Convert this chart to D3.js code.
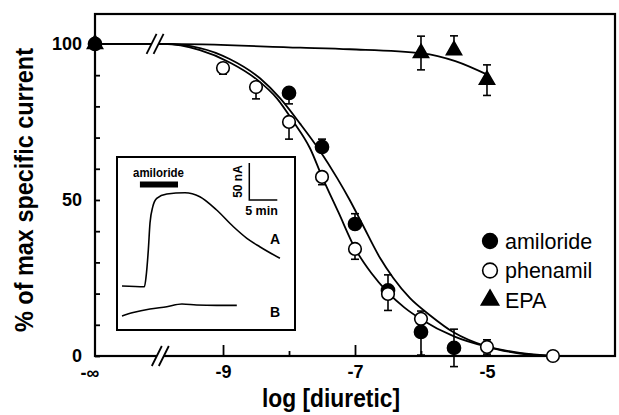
<!DOCTYPE html>
<html>
<head>
<meta charset="utf-8">
<script src="https://cdn.jsdelivr.net/npm/d3@7"></script>
<style>
  body { margin: 0; background: #fff; }
  svg { display: block; font-family: "Liberation Sans", Arial, Helvetica, sans-serif; }
</style>
</head>
<body>
<svg id="chart" width="619" height="415"></svg>
<script>
// measured points: log [diuretic] (M), % of max specific current. -Infinity = no drug
let amilorideX = [-Infinity, -8, -7.5, -7, -6.5, -6, -5.5];
let amilorideY = [100, 84.3, 67, 42.3, 21, 7.7, 2.6];
let amilorideErrUp = [0, 0, 2.5, 3.3, 5, 0, 6];
let amilorideErrDn = [0, 3.5, 0, 0, 0, 7.4, 6];

let phenamilX = [-9, -8.5, -8, -7.5, -7, -6.5, -6, -5, -4];
let phenamilY = [92.3, 86.2, 75, 57.4, 34.3, 19.9, 11.9, 2.9, 0];
let phenamilErrUp = [0, 0, 0, 0, 0, 0, 2.5, 2.3, 0];
let phenamilErrDn = [2, 3.8, 5.5, 2.5, 3.3, 5.3, 0, 2.3, 0];

let epaX = [-Infinity, -6, -5.5, -5];
let epaY = [100, 97.1, 98, 88.5];
let epaErrUp = [0, 5.4, 4.6, 4.8];
let epaErrDn = [0, 5.4, 0, 5];

// fitted curves
let amilorideFit = [[-Infinity,100],[-9.9,100],[-9.35,98.7],[-8.9,95.2],[-8.44,89],[-8.14,82.7],[-7.83,74.4],[-7.53,65.7],[-7.27,57],[-7.08,50],[-6.89,42.3],[-6.62,31.4],[-6.42,25],[-6.17,18.6],[-5.86,13],[-5.5,7.5],[-5,3],[-4.5,0.8],[-4,0]];
let phenamilFit = [[-Infinity,100],[-9.9,100],[-9.35,98],[-8.89,94],[-8.48,88.5],[-8.18,82.5],[-7.94,75.3],[-7.68,66.5],[-7.5,57.5],[-7.25,46],[-7,34.5],[-6.75,26.5],[-6.5,20.3],[-6.25,15.5],[-6,11.8],[-5.5,6.3],[-5,3],[-4.5,1],[-4,0]];
let epaFit = [[-Infinity,100],[-9.9,100],[-7.83,98.8],[-7.08,98.3],[-5.98,97],[-5.48,94.5],[-4.98,90]];

let xMajor = [-9, -7, -5];
let xMinor = [-8, -6, -4];
let yTicks = [0, 10, 20, 30, 40, 50, 60, 70, 80, 90, 100];
let yLabels = [0, 50, 100];

// inset: current traces, time in min, current in nA (each relative to its own baseline)
let traceAt = [0, 4.0, 4.3, 4.7, 5.0, 5.5, 6.2, 8.0, 11.25, 13.9, 16.9, 19.9, 22.3, 24.6, 28.2];
let traceAnA = [0, -1, 12.6, 48.6, 85.1, 107.2, 118.5, 124.3, 126.1, 120.7, 102.7, 80.1, 64.5, 53.1, 37.4];
let traceBt = [0, 2.0, 5.0, 8.0, 10.7, 13.3, 16.9, 20.5];
let traceBnA = [0, 4.6, 9.5, 12.6, 16.2, 14.9, 14.4, 14.4];
let amilorideBar = [3.2, 10.0];
let scaleBarnA = 50, scaleBarMin = 5;

let svg = d3.select("#chart");
svg.append("rect").attr("width", 619).attr("height", 415).attr("fill", "#fff");

let pL = 95, pR = 615, pT = 14, pB = 356;

// -Infinity sits at the left axis
let x = d3.scaleLinear().domain([-10.94, -3.06]).range([pL, pR]);
let y = d3.scaleLinear().domain([0, 109.6]).range([pB, pT]);
let xp = v => v === -Infinity ? x.range()[0] : x(v);

let g = svg.append("g");

// fit lines
let line = d3.line().x(d => xp(d[0])).y(d => y(d[1])).curve(d3.curveMonotoneX);
[amilorideFit, phenamilFit, epaFit].forEach(f => {
  g.append("path").attr("d", line(f))
    .attr("fill", "none").attr("stroke", "#000").attr("stroke-width", 1.8);
});

// frame
g.append("rect").attr("x", pL).attr("y", pT)
  .attr("width", pR - pL).attr("height", pB - pT)
  .attr("fill", "none").attr("stroke", "#000").attr("stroke-width", 2.2);

// axes
let fmt = d => String(d);
let xa = g.append("g").attr("transform", `translate(0,${pB})`)
  .call(d3.axisBottom(x).tickValues(xMajor).tickSizeInner(-11).tickSizeOuter(0).tickPadding(9).tickFormat(fmt));
let xb = g.append("g").attr("transform", `translate(0,${pB})`)
  .call(d3.axisBottom(x).tickValues(xMinor).tickSizeInner(-5).tickSizeOuter(0).tickFormat(""));
let ya = g.append("g").attr("transform", `translate(${pL},0)`)
  .call(d3.axisLeft(y).tickValues(yTicks).tickSizeInner(-5).tickSizeOuter(0).tickPadding(13)
    .tickFormat(d => yLabels.includes(d) ? d : ""));
[xa, xb, ya].forEach(a => {
  a.select(".domain").remove();
  a.selectAll("line").attr("stroke-width", 1.8);
  a.selectAll("text").attr("font-size", 18).attr("font-weight", "bold")
    .attr("font-family", "'Liberation Sans', Arial, sans-serif").attr("fill", "#000");
});

g.append("text").attr("x", xp(-Infinity) - 5).attr("y", pB + 23)
  .attr("text-anchor", "middle").attr("font-size", 18).attr("font-weight", "bold").text("-∞");

// axis breaks
function axisBreak(cx, cy) {
  let h = 10, lean = 5, gap = 7;
  g.append("polygon").attr("fill", "#fff").attr("points", [
    [cx - lean - gap / 2, cy + h], [cx + lean - gap / 2, cy - h],
    [cx + lean + gap / 2, cy - h], [cx - lean + gap / 2, cy + h]].join(" "));
  [-gap / 2, gap / 2].forEach(o => {
    g.append("line").attr("x1", cx - lean + o).attr("y1", cy + h)
      .attr("x2", cx + lean + o).attr("y2", cy - h)
      .attr("stroke", "#000").attr("stroke-width", 1.8);
  });
}
axisBreak(x(-10.03), y(100));
axisBreak(x(-9.95), y(0));

// error bars and markers
function series(xs, ys, up, dn, kind, size) {
  let pts = xs.map((v, i) => ({ x: v, y: ys[i], up: up[i], dn: dn[i] }));
  let eb = g.append("g").attr("stroke", "#000").attr("stroke-width", 1.6);
  pts.forEach(p => {
    let cx = xp(p.x), y1 = y(p.y + p.up), y2 = y(p.y - p.dn);
    if (p.up > 0 || p.dn > 0) {
      eb.append("line").attr("x1", cx).attr("x2", cx).attr("y1", y1).attr("y2", y2);
    }
    if (p.up > 0) eb.append("line").attr("x1", cx - 4).attr("x2", cx + 4).attr("y1", y1).attr("y2", y1);
    if (p.dn > 0) eb.append("line").attr("x1", cx - 4).attr("x2", cx + 4).attr("y1", y2).attr("y2", y2);
  });
  let sym = d3.symbol().type(kind === "tri" ? d3.symbolTriangle : d3.symbolCircle).size(size);
  g.append("g").selectAll("path").data(pts).join("path")
    .attr("transform", d => `translate(${xp(d.x)},${y(d.y)})`)
    .attr("d", sym)
    .attr("fill", kind === "open" ? "#fff" : "#000")
    .attr("stroke", "#000").attr("stroke-width", 1.6);
}
series(epaX, epaY, epaErrUp, epaErrDn, "tri", 100);
series(amilorideX, amilorideY, amilorideErrUp, amilorideErrDn, "filled", 135);
series(phenamilX, phenamilY, phenamilErrUp, phenamilErrDn, "open", 125);

// legend
let legendItems = [["amiloride", "filled"], ["phenamil", "open"], ["EPA", "tri"]];
let lg = g.append("g").attr("transform", "translate(490,241)");
legendItems.forEach((it, i) => {
  let sym = d3.symbol().type(it[1] === "tri" ? d3.symbolTriangle : d3.symbolCircle)
    .size(it[1] === "tri" ? 130 : 170);
  lg.append("path").attr("d", sym).attr("transform", `translate(0,${i * 29.5})`)
    .attr("fill", it[1] === "open" ? "#fff" : "#000").attr("stroke", "#000").attr("stroke-width", 1.6);
  lg.append("text").attr("x", 15).attr("y", i * 29.5 + 7.5)
    .attr("font-size", 21.5).text(it[0]);
});

// axis titles
g.append("text").attr("x", 331).attr("y", 407).attr("text-anchor", "middle")
  .attr("font-size", 25).attr("font-weight", "bold")
  .attr("textLength", 138).attr("lengthAdjust", "spacingAndGlyphs")
  .text("log [diuretic]");
g.append("text").attr("transform", "translate(33,190) rotate(-90)").attr("text-anchor", "middle")
  .attr("font-size", 25).attr("font-weight", "bold")
  .attr("textLength", 284).attr("lengthAdjust", "spacingAndGlyphs")
  .text("% of max specific current");

// inset
let ins = g.append("g");
ins.append("rect").attr("x", 117).attr("y", 157).attr("width", 178).attr("height", 173)
  .attr("fill", "#fff").attr("stroke", "#000").attr("stroke-width", 2);
let ix = d3.scaleLinear().domain([0, 5]).range([122, 150]);
let iy = d3.scaleLinear().domain([0, 50]).range([286, 249]);
let tline = d3.line().x(d => ix(d[0])).y(d => iy(d[1])).curve(d3.curveMonotoneX);
ins.append("path").attr("d", tline(d3.zip(traceAt, traceAnA)))
  .attr("fill", "none").attr("stroke", "#000").attr("stroke-width", 1.6);
ins.append("path").attr("d", tline(d3.zip(traceBt, traceBnA)))
  .attr("transform", "translate(0,30)")
  .attr("fill", "none").attr("stroke", "#000").attr("stroke-width", 1.6);
ins.append("rect").attr("x", ix(amilorideBar[0])).attr("y", 181.5)
  .attr("width", ix(amilorideBar[1]) - ix(amilorideBar[0])).attr("height", 6).attr("fill", "#000");
ins.append("text").attr("x", 158.5).attr("y", 177).attr("text-anchor", "middle")
  .attr("font-size", 12).attr("font-weight", "bold")
  .attr("textLength", 51).attr("lengthAdjust", "spacingAndGlyphs").text("amiloride");
// scale bar
let sbx = 249.3, sby = 200;
let sbH = iy(0) - iy(scaleBarnA), sbW = ix(scaleBarMin) - ix(0);
ins.append("path").attr("d", `M${sbx},${sby - sbH}V${sby}H${sbx + sbW}`)
  .attr("fill", "none").attr("stroke", "#000").attr("stroke-width", 1.5);
ins.append("text").attr("transform", `translate(${sbx - 7},${sby - sbH / 2}) rotate(-90)`)
  .attr("text-anchor", "middle").attr("font-size", 12).attr("font-weight", "bold").text(scaleBarnA + " nA");
ins.append("text").attr("x", 261.5).attr("y", 215).attr("text-anchor", "middle")
  .attr("font-size", 12.5).attr("font-weight", "bold").text(scaleBarMin + " min");
ins.append("text").attr("x", 275).attr("y", 243.5).attr("text-anchor", "middle")
  .attr("font-size", 14).attr("font-weight", "bold").text("A");
ins.append("text").attr("x", 275).attr("y", 316.5).attr("text-anchor", "middle")
  .attr("font-size", 14).attr("font-weight", "bold").text("B");
</script>
</body>
</html>
